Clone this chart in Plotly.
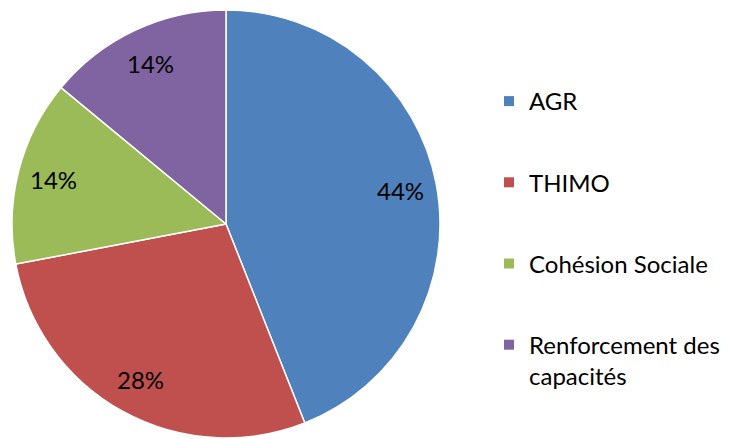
import math
import plotly.graph_objects as go

# Slice data
categories = ["AGR", "THIMO", "Cohésion Sociale", "Renforcement des capacités"]
legend_labels = ["AGR", "THIMO", "Cohésion Sociale", "Renforcement des<br>capacités"]
values = [44, 28, 14, 14]
colors = ["#4F81BD", "#C0504D", "#9BBB59", "#8064A2"]

# the page body has an 8px margin, so the figure is a bit smaller than the window
W, H = 721, 431
FONT = "Lato, 'Open Sans', sans-serif"

# pie placement in figure pixels
cx, cy, R = 218, 216, 214

fig = go.Figure()

fig.add_trace(go.Pie(
    labels=categories,
    values=values,
    sort=False,
    direction="clockwise",
    rotation=0,
    marker=dict(colors=colors, line=dict(color="white", width=1.5)),
    textinfo="none",
    showlegend=False,
    domain=dict(x=[(cx - R) / W, (cx + R) / W], y=[1 - (cy + R) / H, 1 - (cy - R) / H]),
))

# percent labels placed near the rim like Excel does, at each slice's mid angle
total = sum(values)
start = 0.0
for v in values:
    mid = (start + v / 2) / total * 2 * math.pi
    start += v
    r = 0.83 * R
    fig.add_annotation(
        x=(cx + r * math.sin(mid)) / W, y=1 - (cy - r * math.cos(mid)) / H,
        xref="paper", yref="paper", xanchor="center", yanchor="middle",
        showarrow=False,
        text=f"{round(v / total * 100)}%",
        font=dict(family=FONT, size=24, color="black"),
    )

# legend entries as dummy traces, one group each so tracegroupgap spaces them out
for lab, col in zip(legend_labels, colors):
    fig.add_trace(go.Scatter(
        x=[None], y=[None], mode="markers", name=lab, legendgroup=lab,
        marker=dict(symbol="square", size=10, color=col),
    ))

fig.update_layout(
    width=W, height=H,
    margin=dict(l=0, r=0, t=0, b=0),
    paper_bgcolor="white", plot_bgcolor="white",
    xaxis=dict(visible=False), yaxis=dict(visible=False),
    font=dict(family=FONT, size=24, color="black"),
    legend=dict(
        x=481 / W, y=1 - 71 / H, xanchor="left", yanchor="top",
        tracegroupgap=47, valign="top",
        font=dict(family=FONT, size=24, color="black"),
        bgcolor="rgba(0,0,0,0)",
    ),
)

fig.write_html("out.html")
